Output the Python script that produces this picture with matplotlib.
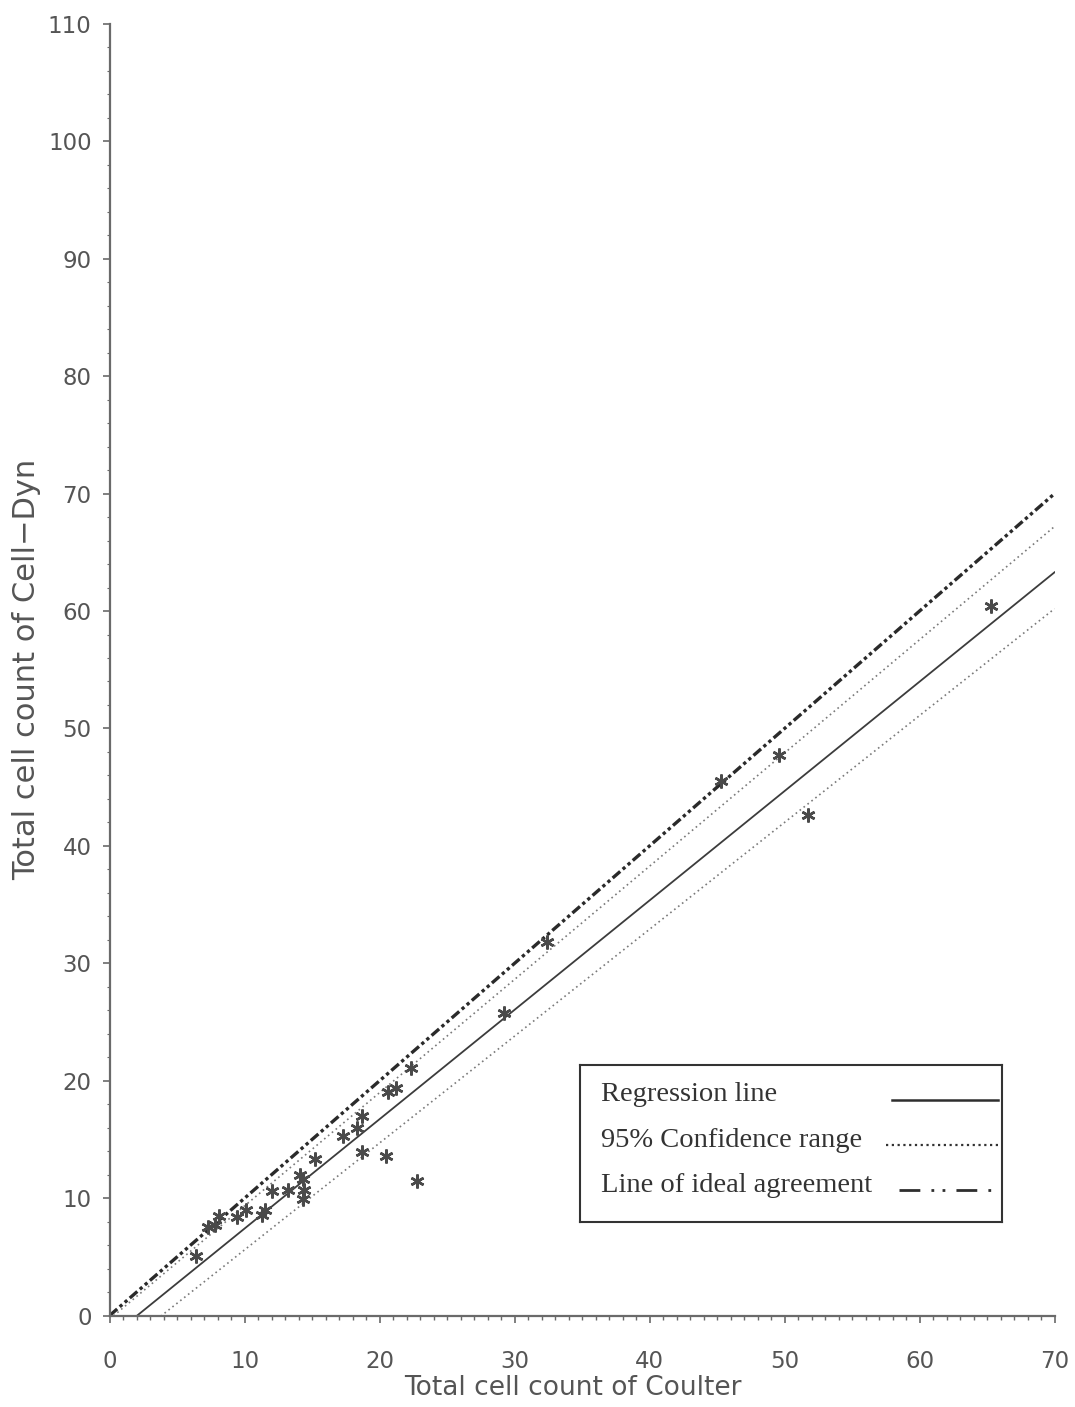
import matplotlib
matplotlib.use("Agg")
import matplotlib.pyplot as plt
from matplotlib.ticker import MultipleLocator

# scatter points: Coulter (x) vs Cell-Dyn (y)
coulter = [6.4, 7.3, 7.8, 8.1, 9.4, 10.1, 11.3, 11.5, 12.0, 13.2,
           14.1, 14.3, 14.4, 14.3, 15.2, 17.3, 18.3, 18.7, 18.7, 20.5,
           20.6, 21.2, 22.3, 22.8, 29.2, 32.4, 45.3, 49.6, 51.7, 65.3]
celldyn = [5.1, 7.5, 7.7, 8.5, 8.4, 9.0, 8.6, 9.0, 10.6, 10.7,
           12.0, 11.6, 10.7, 9.9, 13.3, 15.3, 16.0, 17.0, 13.9, 13.6,
           19.0, 19.4, 21.1, 11.5, 25.8, 31.8, 45.5, 47.7, 42.6, 60.4]

# straight lines given by their end values at x = 0 and x = 70
line_x = [0, 70]
ideal_y = [0, 70]
regression_y = [-1.9, 63.3]
ci_upper_y = [-0.3, 67.2]
ci_lower_y = [-3.5, 60.2]

legend_labels = ["Regression line", "95% Confidence range", "Line of ideal agreement"]

AXIS_GRAY = "#6a6a6a"
TEXT_GRAY = "#555555"
INK = "#3c3c3c"

fig = plt.figure(figsize=(10.75, 14.07), dpi=100)
ax = fig.add_axes([0.102, 0.065, 0.879, 0.918])

ideal_style = dict(color="#2a2a2a", lw=2.4, ls=(0, (3, 1, 1, 1, 1, 1)))
reg_style = dict(color=INK, lw=1.3, ls="-")
ci_style = dict(color="#7a7a7a", lw=1.2, ls=(0, (1, 2)))

ax.plot(line_x, ideal_y, **ideal_style)
ax.plot(line_x, ci_upper_y, **ci_style)
ax.plot(line_x, regression_y, **reg_style)
ax.plot(line_x, ci_lower_y, **ci_style)
ax.plot(coulter, celldyn, ls="none", marker=(6, 2, 0), ms=10, mew=1.8,
        color="#4a4a4a")

ax.set_xlim(0, 70)
ax.set_ylim(0, 110)
ax.xaxis.set_major_locator(MultipleLocator(10))
ax.xaxis.set_minor_locator(MultipleLocator(1))
ax.yaxis.set_major_locator(MultipleLocator(10))
ax.yaxis.set_minor_locator(MultipleLocator(2))

for side in ("top", "right"):
    ax.spines[side].set_visible(False)
for side in ("left", "bottom"):
    ax.spines[side].set_color(AXIS_GRAY)
    ax.spines[side].set_linewidth(1.6)

ax.tick_params(which="major", length=5, width=1.2, color=AXIS_GRAY,
               labelsize=16.5, labelcolor=TEXT_GRAY)
ax.tick_params(axis="y", which="major", pad=8)
ax.tick_params(axis="x", which="major", pad=20)
ax.tick_params(axis="x", which="minor", length=3, width=1.0, color=AXIS_GRAY)
ax.tick_params(axis="y", which="minor", length=2, width=0.8, color=AXIS_GRAY)

ax.set_xlabel("Total cell count of Coulter", fontsize=19, color=TEXT_GRAY)
ax.xaxis.set_label_coords(0.49, -0.046)
ax.set_ylabel("Total cell count of Cell\u2212Dyn", fontsize=22, color=TEXT_GRAY)
ax.yaxis.set_label_coords(-0.072, 0.5)

# legend box drawn as its own small axes: labels left, samples right
lg = fig.add_axes([580 / 1075, 1 - 1222 / 1407, 422 / 1075, 157 / 1407])
lg.set_xlim(0, 1)
lg.set_ylim(0, 1)
lg.set_xticks([])
lg.set_yticks([])
for s in lg.spines.values():
    s.set_color("#333333")
    s.set_linewidth(1.5)

rows = [0.81, 0.52, 0.235]
styles = [dict(color="#2e2e2e", lw=1.8, ls="-"),
          dict(color="#333333", lw=1.6, ls=(0, (1, 1.6))),
          dict(color="#2e2e2e", lw=2.0, ls=(0, (7.5, 4, 1, 3, 1, 4)))]
starts = [0.74, 0.725, 0.755]
for y, text, st, x0 in zip(rows, legend_labels, styles, starts):
    lg.text(0.05, y, text, fontsize=20.5, family="Liberation Serif",
            color="#333333", va="center", ha="left")
    lg.plot([x0, 0.99], [y - 0.03, y - 0.03], **st)

fig.savefig("out.png", dpi=100)
